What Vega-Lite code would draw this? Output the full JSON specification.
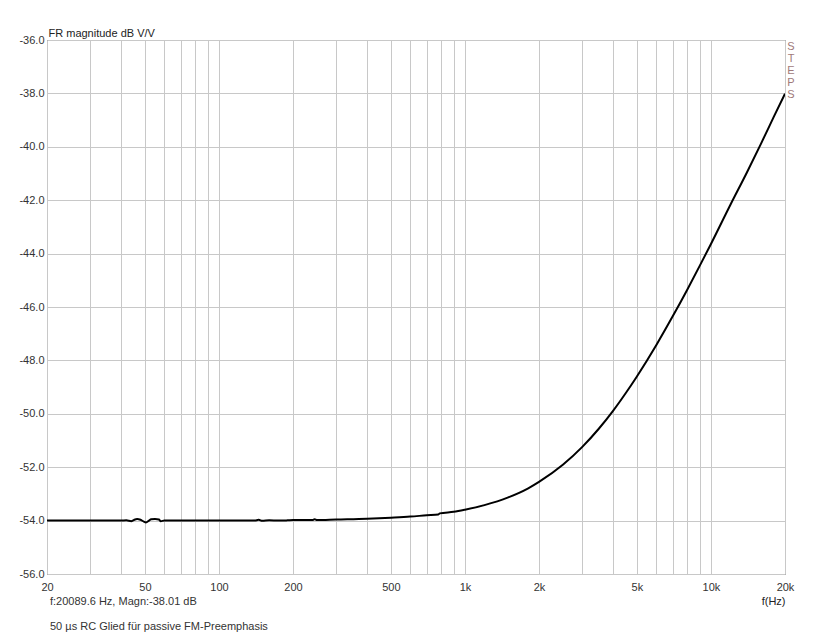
{
  "$schema": "https://vega.github.io/schema/vega-lite/v6.json",
  "width": 738,
  "height": 534,
  "autosize": "none",
  "padding": {"left": 47, "top": 40, "right": 46, "bottom": 59},
  "background": "white",
  "config": {
    "font": "Liberation Sans",
    "view": {"stroke": "#444444", "strokeWidth": 1},
    "axis": {"labelFont": "Liberation Sans", "titleFont": "Liberation Sans", "labelFontSize": 11, "titleFontSize": 11, "labelColor": "#333333", "titleColor": "#222222", "titleFontWeight": "normal", "gridColor": "#c8c8c8", "gridWidth": 1, "gridOpacity": 1, "domain": false, "ticks": false}
  },
  "title": {
    "text": "f:20089.6 Hz, Magn:-38.01 dB",
    "subtitle": "50 µs RC Glied für passive FM-Preemphasis",
    "orient": "bottom",
    "anchor": "start",
    "frame": "group",
    "font": "Liberation Sans",
    "fontSize": 11,
    "fontWeight": "normal",
    "color": "#333333",
    "subtitleFont": "Liberation Sans",
    "subtitleFontSize": 11,
    "subtitleColor": "#333333",
    "subtitlePadding": 14,
    "offset": 0,
    "dx": 3,
    "dy": -10
  },
  "datasets": {
    "curve": [
      {"f": 20, "db": -54.0},
      {"f": 25, "db": -54.0},
      {"f": 30, "db": -54.0},
      {"f": 35, "db": -54.0},
      {"f": 40, "db": -54.0},
      {"f": 42, "db": -53.99},
      {"f": 44, "db": -54.02},
      {"f": 45, "db": -53.98},
      {"f": 46.5, "db": -53.94},
      {"f": 48, "db": -53.97},
      {"f": 49.5, "db": -54.04},
      {"f": 50.5, "db": -54.07},
      {"f": 52, "db": -54.0},
      {"f": 53, "db": -53.95},
      {"f": 55, "db": -53.94},
      {"f": 57, "db": -53.96},
      {"f": 58, "db": -54.02},
      {"f": 60, "db": -54.0},
      {"f": 70, "db": -54.0},
      {"f": 100, "db": -54.0},
      {"f": 140, "db": -54.0},
      {"f": 145, "db": -53.97},
      {"f": 150, "db": -54.01},
      {"f": 160, "db": -53.99},
      {"f": 175, "db": -54.0},
      {"f": 190, "db": -53.99},
      {"f": 200, "db": -53.98},
      {"f": 240, "db": -53.98},
      {"f": 245, "db": -53.95},
      {"f": 250, "db": -53.98},
      {"f": 300, "db": -53.96},
      {"f": 400, "db": -53.93},
      {"f": 500, "db": -53.89},
      {"f": 600, "db": -53.85},
      {"f": 700, "db": -53.8},
      {"f": 780, "db": -53.77},
      {"f": 790, "db": -53.73},
      {"f": 900, "db": -53.67},
      {"f": 1000, "db": -53.59},
      {"f": 1200, "db": -53.42},
      {"f": 1500, "db": -53.13},
      {"f": 1800, "db": -52.8},
      {"f": 2000, "db": -52.55},
      {"f": 2500, "db": -51.91},
      {"f": 3000, "db": -51.24},
      {"f": 3500, "db": -50.56},
      {"f": 4000, "db": -49.89},
      {"f": 4500, "db": -49.23},
      {"f": 5000, "db": -48.6},
      {"f": 6000, "db": -47.42},
      {"f": 7000, "db": -46.34},
      {"f": 8000, "db": -45.36},
      {"f": 9000, "db": -44.46},
      {"f": 10000, "db": -43.64},
      {"f": 12000, "db": -42.17},
      {"f": 14000, "db": -40.96},
      {"f": 16000, "db": -39.87},
      {"f": 18000, "db": -38.88},
      {"f": 20000, "db": -38.01}
    ],
    "label": [{"f": 20000, "db": -36, "txt": "STEPS"}]
  },
  "layer": [
    {
      "data": {"name": "curve"},
      "mark": {"type": "line", "color": "#000000", "strokeWidth": 2, "clip": true, "interpolate": "monotone"},
      "encoding": {
        "x": {
          "field": "f",
          "type": "quantitative",
          "scale": {"type": "log", "domain": [20, 20000], "nice": false},
          "axis": {
            "values": [20, 30, 40, 50, 60, 70, 80, 90, 100, 200, 300, 400, 500, 600, 700, 800, 900, 1000, 2000, 3000, 4000, 5000, 6000, 7000, 8000, 9000, 10000, 20000],
            "labelExpr": "indexof([20,50,100,200,500,1000,2000,5000,10000,20000], datum.value) >= 0 ? (datum.value >= 1000 ? (datum.value/1000) + 'k' : '' + datum.value) : ''",
            "labelPadding": 7,
            "labelFlush": false,
            "labelOverlap": false,
            "title": "f(Hz)",
            "titleAnchor": "end",
            "titleAlign": "right",
            "titleX": 738,
            "titleY": 27,
            "titleBaseline": "middle"
          }
        },
        "y": {
          "field": "db",
          "type": "quantitative",
          "scale": {"domain": [-56, -36], "nice": false, "zero": false},
          "axis": {
            "values": [-56, -54, -52, -50, -48, -46, -44, -42, -40, -38, -36],
            "labelExpr": "'-' + format(abs(datum.value), '.1f')",
            "labelPadding": 3,
            "labelFlush": false,
            "title": "FR magnitude dB V/V",
            "titleAngle": 0,
            "titleAlign": "left",
            "titleBaseline": "alphabetic",
            "titleX": 1,
            "titleY": -4
          }
        }
      }
    },
    {
      "data": {"name": "label"},
      "mark": {"type": "text", "text": ["S", "T", "E", "P", "S"], "color": "#a07a7a", "fontSize": 11, "lineHeight": 12, "align": "center", "baseline": "top", "dx": 6, "dy": 1, "font": "Liberation Sans"},
      "encoding": {
        "x": {"field": "f", "type": "quantitative"},
        "y": {"field": "db", "type": "quantitative"}
      }
    }
  ]
}
